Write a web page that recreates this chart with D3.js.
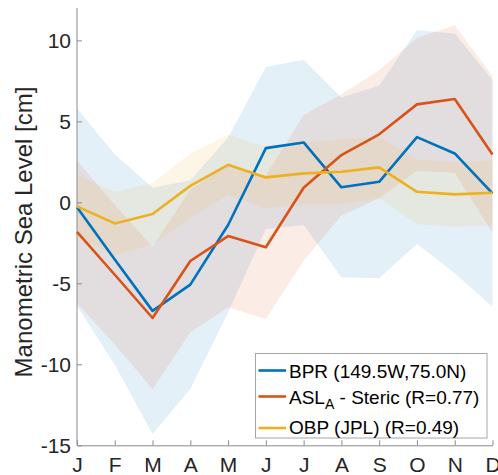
<!DOCTYPE html>
<html>
<head>
<meta charset="utf-8">
<script src="https://cdn.jsdelivr.net/npm/d3@7"></script>
<style>
  body { margin: 0; background: #fff; }
  svg { display: block; font-family: "Liberation Sans", Arial, sans-serif; }
</style>
</head>
<body>
<svg width="498" height="475"></svg>
<script>
// monthly values (cm)
var months = ["J", "F", "M", "A", "M", "J", "J", "A", "S", "O", "N", "D"];
var bpr     = [-0.3, -3.53, -6.7, -5.08, -1.4, 3.35, 3.7, 0.93, 1.27, 4.03, 3.02, 0.56];
var bprStd  = [6.1, 6.5, 7.6, 6.45, 5.4, 5.0, 5.1, 5.55, 5.95, 6.6, 7.4, 7.0];
var asl     = [-1.82, -4.47, -7.14, -3.62, -2.08, -2.77, 0.9, 2.92, 4.2, 6.05, 6.38, 2.96];
var aslStd  = [4.4, 4.3, 4.4, 4.4, 4.4, 4.43, 4.5, 3.75, 3.95, 4.1, 4.55, 4.85];
var obp     = [-0.25, -1.3, -0.72, 1.02, 2.32, 1.54, 1.79, 1.89, 2.16, 0.65, 0.49, 0.59];
var obpStd  = [1.95, 1.95, 1.9, 2.0, 1.85, 1.9, 1.9, 2.0, 1.9, 2.0, 2.0, 2.0];
var yTicks  = [-15, -10, -5, 0, 5, 10];

var series = [
  {name: "BPR", vals: bpr, std: bprStd, color: "#0072BD"},
  {name: "ASL", vals: asl, std: aslStd, color: "#D95319"},
  {name: "OBP", vals: obp, std: obpStd, color: "#EDB120"}
];

var svg = d3.select("svg");
var x = d3.scaleLinear().domain([0, 11]).range([77, 492.5]);
var y = d3.scaleLinear().domain([-15, 12]).range([445.3, 8]);

// shaded +/- std bands
var area = d3.area()
  .x(function(d, i) { return x(i); })
  .y0(function(d) { return y(d.lo); })
  .y1(function(d) { return y(d.hi); });

svg.append("g").selectAll("path")
  .data(series)
  .enter().append("path")
  .attr("d", function(s) {
    return area(s.vals.map(function(v, i) { return {lo: v - s.std[i], hi: v + s.std[i]}; }));
  })
  .attr("fill", function(s) { return s.color; })
  .attr("fill-opacity", 0.11)
  .attr("stroke", "none");

// axes (left and bottom only, inward ticks)
var axisColor = "#8a8a8a";
var yAxis = svg.append("g")
  .attr("transform", "translate(77,0)")
  .call(d3.axisLeft(y).tickValues(yTicks)
    .tickFormat(function(d) { return String(d); }) // plain hyphen like the original
    .tickSizeInner(-5).tickSizeOuter(0).tickPadding(6));
var xAxis = svg.append("g")
  .attr("transform", "translate(0,445.3)")
  .call(d3.axisBottom(x).tickValues(d3.range(12))
    .tickFormat(function(i) { return months[i]; })
    .tickSizeInner(-5).tickSizeOuter(0).tickPadding(12));

[yAxis, xAxis].forEach(function(a) {
  a.select(".domain").attr("stroke", axisColor).attr("stroke-width", 1);
  a.selectAll(".tick line").attr("stroke", axisColor);
  a.selectAll(".tick text").attr("fill", "#262626").style("font-size", "21px")
    .style("font-family", "'Liberation Sans', Arial, sans-serif");
});
yAxis.select(".domain").attr("d", "M0," + y(12) + "V" + y(-15));

// lines
var line = d3.line()
  .x(function(d, i) { return x(i); })
  .y(function(d) { return y(d); });

svg.append("g").selectAll("path")
  .data(series)
  .enter().append("path")
  .attr("d", function(s) { return line(s.vals); })
  .attr("fill", "none")
  .attr("stroke", function(s) { return s.color; })
  .attr("stroke-width", 2.6)
  .attr("stroke-linejoin", "round");

// y label
svg.append("text")
  .attr("transform", "translate(32,232) rotate(-90)")
  .attr("text-anchor", "middle")
  .attr("fill", "#262626")
  .style("font-size", "24px")
  .text("Manometric Sea Level [cm]");

// legend
var legend = svg.append("g");
legend.append("rect")
  .attr("x", 255.5).attr("y", 353.5)
  .attr("width", 231.5).attr("height", 84.5)
  .attr("fill", "#fff").attr("stroke", "#a6a6a6").attr("stroke-width", 1);

var rows = [370.5, 396.5, 428];
series.forEach(function(s, i) {
  legend.append("line")
    .attr("x1", 258.5).attr("x2", 286)
    .attr("y1", rows[i]).attr("y2", rows[i])
    .attr("stroke", s.color).attr("stroke-width", 2.6);
});

var legendText = legend.append("g")
  .attr("fill", "#000")
  .style("font-size", "19px");
legendText.append("text").attr("x", 289).attr("y", 378).text("BPR (149.5W,75.0N)");
var t2 = legendText.append("text").attr("x", 289).attr("y", 403.5);
t2.append("tspan").text("ASL");
t2.append("tspan").attr("dy", 5).style("font-size", "14px").text("A");
t2.append("tspan").attr("dy", -5).text(" - Steric (R=0.77)");
legendText.append("text").attr("x", 289).attr("y", 433.5).text("OBP (JPL) (R=0.49)");
</script>
</body>
</html>
